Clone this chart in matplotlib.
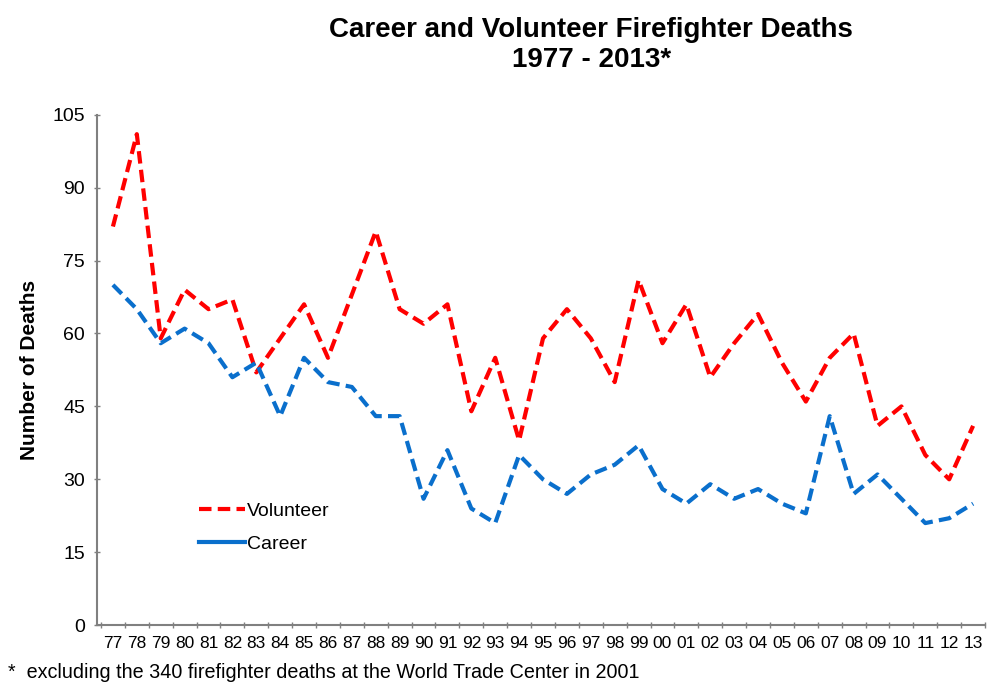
import matplotlib
matplotlib.use("Agg")
import matplotlib.pyplot as plt
from matplotlib.lines import Line2D

plt.rcParams['font.family'] = ['Liberation Sans', 'DejaVu Sans']

years = ["77", "78", "79", "80", "81", "82", "83", "84", "85", "86", "87", "88",
         "89", "90", "91", "92", "93", "94", "95", "96", "97", "98", "99", "00",
         "01", "02", "03", "04", "05", "06", "07", "08", "09", "10", "11", "12", "13"]
volunteer = [82, 101, 59, 69, 65, 67, 52, 59, 66, 55, 68, 81,
             65, 62, 66, 44, 55, 38, 59, 65, 59, 50, 71, 58,
             66, 51, 58, 64, 54, 46, 55, 60, 41, 45, 35, 30, 41]
career = [70, 65, 58, 61, 58, 51, 54, 43, 55, 50, 49, 43,
          43, 26, 36, 24, 21, 35, 30, 27, 31, 33, 37, 28,
          25, 29, 26, 28, 25, 23, 43, 27, 31, 26, 21, 22, 25]
yticks = [0, 15, 30, 45, 60, 75, 90, 105]

red = "#FF0000"
blue = "#0A6FCC"

fig = plt.figure(figsize=(9.89, 6.87), dpi=100)
ax = fig.add_axes([0.098, 0.090, 0.898, 0.743])

x = list(range(len(years)))
ax.plot(x, volunteer, color=red, lw=3, dashes=(3, 1.5), label="Volunteer")
ax.plot(x, career, color=blue, lw=3, dashes=(3, 1.5), label="Career")

ax.set_xlim(-0.67, len(years) - 0.58)
ax.set_ylim(0, 105)
ax.set_yticks(yticks)
ax.set_xticks(x)
ax.set_xticklabels(years, fontsize=12.5)
ax.set_xticks([i + 0.5 for i in range(-1, len(years))], minor=True)
ax.tick_params(axis='x', which='major', length=0, pad=8)
ax.tick_params(axis='x', which='minor', length=5, width=1, color='#808080', direction='inout')
ax.tick_params(axis='y', labelsize=14, length=5, width=1, color='#808080', direction='inout', pad=6)

for s in ['top', 'right']:
    ax.spines[s].set_visible(False)
for s in ['left', 'bottom']:
    ax.spines[s].set_color('#808080')
    ax.spines[s].set_linewidth(1.5)

ax.set_ylabel("Number of Deaths", fontsize=15, fontweight='bold', labelpad=10)

handles = [Line2D([], [], color=red, lw=3, dashes=(3, 1.5)),
           Line2D([], [], color=blue, lw=3)]
ax.legend(handles, ["Volunteer", "Career"], loc='upper left',
          bbox_to_anchor=(0.095, 0.275), frameon=False, fontsize=14,
          handlelength=2.4, handletextpad=0.1, labelspacing=0.8)

fig.text(0.598, 0.975, "Career and Volunteer Firefighter Deaths\n1977 - 2013*",
         ha='center', va='top', fontsize=20, fontweight='bold', linespacing=1.2)
fig.text(0.008, 0.008, "*  excluding the 340 firefighter deaths at the World Trade Center in 2001",
         ha='left', va='bottom', fontsize=14.2)

fig.savefig("out.png", dpi=100)
